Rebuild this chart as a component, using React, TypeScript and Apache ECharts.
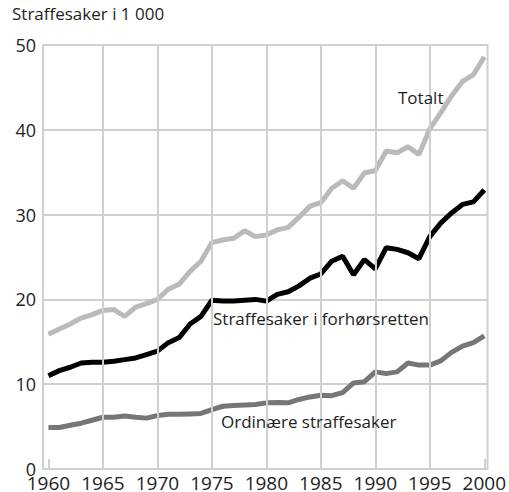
import React, { useEffect, useRef } from "react";
import * as echarts from "echarts";

const years = [
  1960, 1961, 1962, 1963, 1964, 1965, 1966, 1967, 1968, 1969,
  1970, 1971, 1972, 1973, 1974, 1975, 1976, 1977, 1978, 1979,
  1980, 1981, 1982, 1983, 1984, 1985, 1986, 1987, 1988, 1989,
  1990, 1991, 1992, 1993, 1994, 1995, 1996, 1997, 1998, 1999, 2000,
];

const totalt = [
  15.9, 16.5, 17.1, 17.8, 18.2, 18.7, 18.8, 18.0, 19.1, 19.5,
  20.0, 21.2, 21.8, 23.3, 24.5, 26.7, 27.0, 27.2, 28.1, 27.4,
  27.6, 28.2, 28.5, 29.7, 31.0, 31.4, 33.1, 34.0, 33.1, 34.9,
  35.2, 37.5, 37.3, 38.0, 37.1, 40.1, 42.0, 44.0, 45.7, 46.5, 48.6,
];

const forhorsretten = [
  11.0, 11.6, 12.0, 12.5, 12.6, 12.6, 12.7, 12.9, 13.1, 13.5,
  13.9, 14.9, 15.5, 17.1, 18.0, 19.9, 19.8, 19.8, 19.9, 20.0,
  19.8, 20.6, 20.9, 21.6, 22.5, 23.0, 24.5, 25.1, 22.9, 24.7,
  23.6, 26.1, 25.9, 25.5, 24.8, 27.4, 29.0, 30.2, 31.2, 31.5, 32.9,
];

const ordinaere = [
  4.9, 4.9, 5.15, 5.4, 5.75, 6.1, 6.1, 6.25, 6.1, 6.0,
  6.3, 6.45, 6.45, 6.5, 6.55, 7.0, 7.4, 7.5, 7.55, 7.6,
  7.8, 7.85, 7.8, 8.2, 8.5, 8.7, 8.65, 9.0, 10.15, 10.3,
  11.45, 11.25, 11.45, 12.5, 12.25, 12.25, 12.75, 13.75, 14.5, 14.9, 15.7,
];

const xLabelValues = [1960, 1965, 1970, 1975, 1980, 1985, 1990, 1995, 2000];
const xGridValues = [1965, 1970, 1975, 1980, 1985, 1990, 1995];
const xEdgeTicks = [1960, 2000];

const yTitle = "Straffesaker i 1 000";
const labelTotalt = "Totalt";
const labelForhor = "Straffesaker i forhørsretten";
const labelOrdinaere = "Ordinære straffesaker";

const FONT = "'Open Sans', 'Noto Sans', sans-serif";
const GRID = "#cfcfcf";
const TEXT = "#1e1e1e";

export default function App() {
  const ref = useRef<HTMLDivElement>(null);

  useEffect(() => {
    if (!ref.current) return;
    const chart = echarts.init(ref.current, undefined, { renderer: "svg" });
    const pair = (vals: number[]) => years.map((y, i) => [y, vals[i]]);

    chart.setOption({
      animation: false,
      backgroundColor: "#ffffff",
      textStyle: { fontFamily: FONT },
      grid: {
        left: 43,
        right: 18,
        top: 45,
        bottom: 23,
        show: true,
        borderColor: GRID,
        borderWidth: 2,
        backgroundColor: "transparent",
      },
      xAxis: {
        type: "value",
        min: 1959.5,
        max: 2000.3,
        splitLine: { show: false },
        axisLine: { show: true, lineStyle: { color: GRID, width: 2 } },
        axisTick: {
          show: true,
          customValues: xEdgeTicks,
          inside: true,
          length: 10,
          lineStyle: { color: GRID, width: 2 },
        },
        axisLabel: {
          customValues: xLabelValues,
          color: TEXT,
          fontSize: 19,
          fontFamily: FONT,
          margin: 4,
          formatter: (v: number) => String(v),
        },
      },
      yAxis: {
        type: "value",
        min: 0,
        max: 50,
        interval: 10,
        axisLine: { show: true, lineStyle: { color: GRID, width: 2 } },
        axisTick: { show: false },
        splitLine: { show: true, lineStyle: { color: GRID, width: 2 } },
        axisLabel: {
          color: TEXT,
          fontSize: 18,
          fontFamily: FONT,
          margin: 7,
        },
      },
      graphic: [
        {
          type: "text",
          left: 12,
          top: 5,
          style: { text: yTitle, fill: TEXT, font: `17px ${FONT}` },
        },
        {
          type: "text",
          x: 398,
          y: 97,
          style: { text: labelTotalt, fill: TEXT, font: `17px ${FONT}`, verticalAlign: "middle" },
          z: 10,
        },
        {
          type: "text",
          x: 213,
          y: 318,
          style: { text: labelForhor, fill: TEXT, font: `17px ${FONT}`, verticalAlign: "middle" },
          z: 10,
        },
        {
          type: "text",
          x: 221,
          y: 421,
          style: { text: labelOrdinaere, fill: TEXT, font: `17px ${FONT}`, verticalAlign: "middle" },
          z: 10,
        },
      ],
      series: [
        {
          type: "line",
          name: "grid",
          data: [],
          z: 1,
          silent: true,
          markLine: {
            silent: true,
            symbol: ["none", "none"],
            label: { show: false },
            lineStyle: { color: GRID, width: 2, type: "solid" },
            data: xGridValues.map((v) => ({ xAxis: v })),
          },
        },
        {
          type: "line",
          name: labelTotalt,
          data: pair(totalt),
          showSymbol: false,
          z: 3,
          lineStyle: { color: "#bababa", width: 5 },
        },
        {
          type: "line",
          name: labelOrdinaere,
          data: pair(ordinaere),
          showSymbol: false,
          z: 3,
          lineStyle: { color: "#767676", width: 5 },
        },
        {
          type: "line",
          name: labelForhor,
          data: pair(forhorsretten),
          showSymbol: false,
          z: 4,
          lineStyle: { color: "#000000", width: 5 },
        },
      ],
    });

    return () => chart.dispose();
  }, []);

  return (
    <div
      ref={ref}
      style={{ position: "fixed", left: 0, top: 0, width: 509, height: 492 }}
    />
  );
}
